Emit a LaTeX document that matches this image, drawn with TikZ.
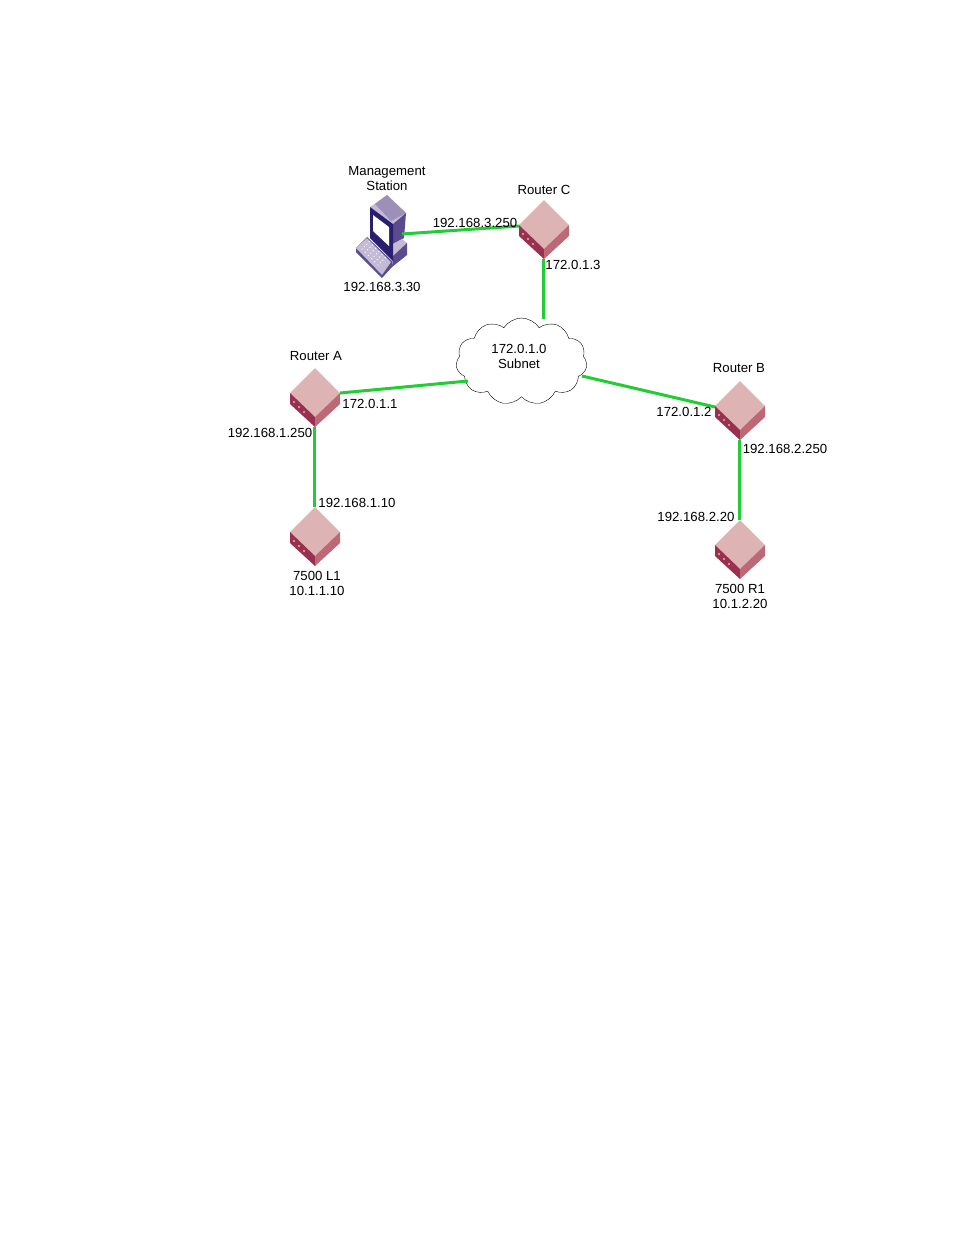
\documentclass[tikz,border=0pt]{standalone}
\usepackage{fontspec}
\setmainfont{Liberation Sans}
\usetikzlibrary{shapes.symbols}
\definecolor{linkgreen}{HTML}{22CC33}
\definecolor{routertop}{HTML}{DDB3B3}
\definecolor{routerleft}{HTML}{99304F}
\definecolor{routerright}{HTML}{BD6875}
\definecolor{pcdark}{HTML}{2A1E6E}
\definecolor{pcmid}{HTML}{5B4A8E}
\definecolor{pclight}{HTML}{9C8FB8}
\definecolor{pcpale}{HTML}{C3BAD6}
\tikzset{
	link/.style={linkgreen,line width=3pt},
	lbl/.style={inner sep=0pt,align=center,font=\fontsize{13.2}{15.5}\selectfont},
	subnetcloud/.style={draw,fill=white,cloud,cloud puffs=11,cloud puff arc=115,aspect=1.5,
		inner sep=0pt,minimum width=131pt,minimum height=87pt}
}
% router: x, y of the top corner
\newcommand{\router}[3]{
	\begin{scope}[shift={(#2,#3)}]
		\fill[routertop](0,0)--(25,25)--(0,49)--(-25,25)--cycle;
		\fill[routerleft](-25,25)--(0,49)--(0,59)--(-25,36)--cycle;
		\fill[routerright](25,25)--(0,49)--(0,59)--(25,36)--cycle;
		\foreach \d in {0,1,2} {{
			\fill[routertop](-21+5*\d,34+5*\d) circle(1.2pt);
		}}
		\coordinate (#1-n) at (-0.5,0);
		\coordinate (#1-e) at (25,25);
		\coordinate (#1-w) at (-25,26);
		\coordinate (#1-s) at (-0.5,59);
	\end{scope}
}
\begin{document}
\begin{tikzpicture}[x=1pt,y=-1pt]
	\useasboundingbox (0,0) rectangle (954,1235);

	\node[subnetcloud] (subnet) at (521.5,361.5) {};
	\coordinate (subnet-n) at (543.5,319);
	\coordinate (subnet-w) at (468,381);
	\coordinate (subnet-e) at (582,376);

	\router{routerC}{544}{200}
	\router{routerA}{315}{368}
	\router{routerB}{740}{381}
	\router{routerL}{315}{507}
	\router{routerR}{740}{520}

	% management station
	\fill[pcpale](373,205)--(387,195)--(406,213)--(393,224)--(370,207)--cycle;
	\fill[pclight](375,204)--(387,195)--(406,213)--(391,221)--cycle;
	\fill[pcmid](406,213)--(404,238)--(393,244)--(393,224)--cycle;
	\fill[pcpale](393,244)--(402,239)--(407,243)--(393,256)--cycle;
	\fill[pcmid](407,243)--(407,255)--(392,267)--(393,256)--cycle;
	\fill[pcdark](370,207)--(393,224)--(393,261)--(370,238)--cycle;
	\fill[white](373,215)--(389,227)--(389,246)--(373,231)--cycle;
	\fill[pcmid](356,248)--(367,237)--(392,261)--(392,267)--(382,278)--(356,252)--cycle;
	\fill[pcpale](356,248)--(367,238)--(391,262)--(382,275)--cycle;
	\foreach \i in {0,...,5} {{
		\foreach \j in {0,...,3} {{
			\fill[white](362+3.2*\i+2.4*\j,249+3.2*\i-2.4*\j) circle(0.7pt);
		}}
	}}
	\coordinate (pc-port) at (402,234);

	\draw[link] (pc-port) -- (routerC-w);
	\draw[link] (routerC-s) -- (subnet-n);
	\draw[link] (routerA-e) -- (subnet-w);
	\draw[link] (subnet-e) -- (routerB-w);
	\draw[link] (routerA-s) -- (routerL-n);
	\draw[link] (routerB-s) -- (routerR-n);

	% labels
	\node[lbl] (mgmt) at (387,178.5) {Management\\Station};
	\node[lbl] (pcip) at (382,286.5) {192.168.3.30};
	\node[lbl] (nameC) at (544,189.5) {Router C};
	\node[lbl] (ipC1) at (475,222.5) {192.168.3.250};
	\node[lbl] (ipC2) at (573,264.5) {172.0.1.3};
	\node[lbl] (subnettext) at (519,356.5) {172.0.1.0\\Subnet};
	\node[lbl] (nameA) at (316,356.5) {Router A};
	\node[lbl] (ipA1) at (370,403.5) {172.0.1.1};
	\node[lbl] (ipA2) at (270,432.5) {192.168.1.250};
	\node[lbl] (ipL) at (357,502.5) {192.168.1.10};
	\node[lbl] (nameL) at (317,583.5) {7500 L1\\10.1.1.10};
	\node[lbl] (nameB) at (739,368.5) {Router B};
	\node[lbl] (ipB1) at (684,411.5) {172.0.1.2};
	\node[lbl] (ipB2) at (785,448.5) {192.168.2.250};
	\node[lbl] (ipR) at (696,516.5) {192.168.2.20};
	\node[lbl] (nameR) at (740,596.5) {7500 R1\\10.1.2.20};
\end{tikzpicture}
\end{document}
